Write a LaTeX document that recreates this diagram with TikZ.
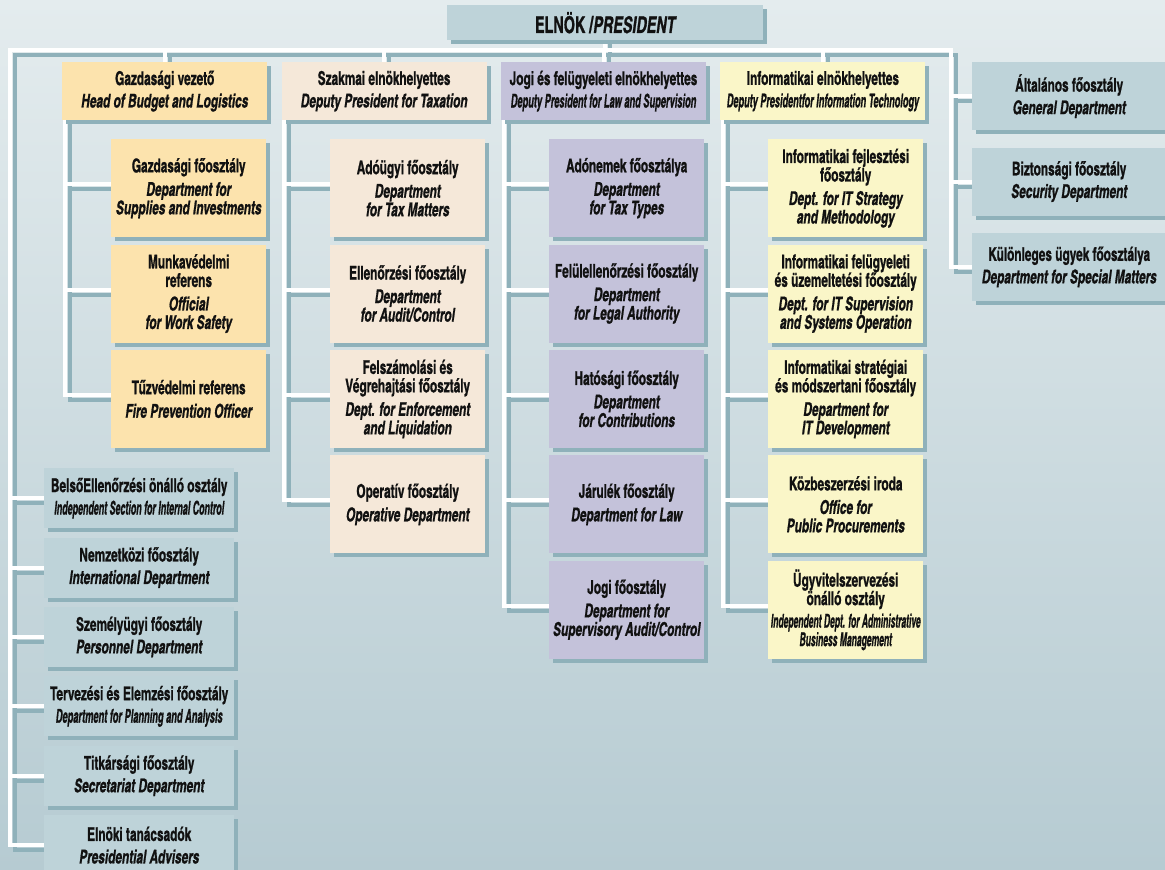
\documentclass[tikz,border=0pt]{standalone}
\usepackage{fontspec}
\setmainfont{texgyreheroscn-bold.otf}[
  ItalicFont=texgyreheroscn-bolditalic.otf,
  FakeStretch=0.76, FakeBold=0.8]
\usepackage{graphicx}
\usepackage{tikz}
\usetikzlibrary{positioning, shadows}

\definecolor{skytop}{HTML}{E4ECEE}
\definecolor{skybottom}{HTML}{B6CBD2}
\definecolor{paneltone}{HTML}{BED3D9}
\definecolor{budgettone}{HTML}{FCE3AD}
\definecolor{taxtone}{HTML}{F5E8D9}
\definecolor{lawtone}{HTML}{C4C2DA}
\definecolor{ittone}{HTML}{FAF6C8}
\definecolor{boxshade}{HTML}{8FB1BA}
\definecolor{linkshade}{HTML}{8FB1BA}
\definecolor{textink}{HTML}{111111}

\newcommand{\squeeze}[2][0.78]{\scalebox{#1}[1]{#2}}

\pgfdeclarelayer{backdrop}
\pgfdeclarelayer{links}
\pgfsetlayers{backdrop,links,main}

\tikzset{
  unit/.style={rectangle, anchor=north west, inner sep=0pt, align=center,
    text=textink, font=\fontsize{19}{18.5}\selectfont,
    drop shadow={shadow xshift=4pt, shadow yshift=-4pt, opacity=1, fill=boxshade}},
  pres/.style={unit, fill=paneltone, minimum width=316pt, minimum height=35pt,
    font=\fontsize{23}{24}\selectfont},
  head/.style={unit, minimum width=205pt, minimum height=58pt},
  dept/.style={unit, minimum width=155pt, minimum height=98pt},
  staff/.style={unit, fill=paneltone, minimum width=190pt, minimum height=60pt},
  side/.style={unit, fill=paneltone, minimum width=194pt, minimum height=68pt},
  link/.style={line width=4pt, line cap=rect},
}

\begin{document}
\begin{tikzpicture}[x=1pt, y=-1pt]
  \useasboundingbox (0,0) rectangle (1165,870);
  \begin{pgfonlayer}{backdrop}
    \fill[top color=skytop, bottom color=skybottom] (0,0) rectangle (1165,870);
  \end{pgfonlayer}

  % top
  \node[pres] (pres) at (447,5) {ELNÖK /\itshape PRESIDENT};
  \coordinate (busL) at (10,50);
  \coordinate (busR) at (951,50);

  % deputies
  \node[head, fill=budgettone] (h1) at (62,62)
    {Gazdasági vezető\\[4pt]\itshape Head of Budget and Logistics};
  \node[head, fill=taxtone] (h2) [right=14pt of h1]
    {Szakmai elnökhelyettes\\[4pt]\itshape Deputy President for Taxation};
  \node[head, fill=lawtone] (h3) [right=14pt of h2]
    {Jogi és felügyeleti elnökhelyettes\\[4pt]\itshape\squeeze{Deputy President for Law and Supervision}};
  \node[head, fill=ittone] (h4) [right=14pt of h3]
    {Informatikai elnökhelyettes\\[4pt]\itshape\squeeze[0.77]{Deputy Presidentfor Information Technology}};

  % directly under the president, right
  \node[side] (g1) at (972,62)
    {Általános főosztály\\[4pt]\itshape General Department};
  \node[side] (g2) [below=17pt of g1]
    {Biztonsági főosztály\\[4pt]\itshape Security Department};
  \node[side] (g3) [below=17pt of g2]
    {Különleges ügyek főosztálya\\[4pt]\itshape Department for Special Matters};

  % budget and logistics
  \node[dept, fill=budgettone] (c11) at (111,139)
    {Gazdasági főosztály\\[5pt]\itshape Department for\\\itshape Supplies and Investments};
  \node[dept, fill=budgettone] (c12) [below=7pt of c11]
    {Munkavédelmi\\referens\\[5pt]\itshape Official\\\itshape for Work Safety};
  \node[dept, fill=budgettone] (c13) [below=7pt of c12]
    {Tűzvédelmi referens\\[5pt]\itshape Fire Prevention Officer};

  % taxation
  \node[dept, fill=taxtone] (c21) at (330,139)
    {Adóügyi főosztály\\[5pt]\itshape Department\\\itshape for Tax Matters};
  \node[dept, fill=taxtone] (c22) [below=7pt of c21]
    {Ellenőrzési főosztály\\[5pt]\itshape Department\\\itshape for Audit/Control};
  \node[dept, fill=taxtone] (c23) [below=7pt of c22]
    {Felszámolási és\\Végrehajtási főosztály\\[5pt]\itshape Dept. for Enforcement\\\itshape and Liquidation};
  \node[dept, fill=taxtone] (c24) [below=7pt of c23]
    {Operatív főosztály\\[5pt]\itshape Operative Department};

  % law and supervision
  \node[dept, fill=lawtone] (c31) at (549,139)
    {Adónemek főosztálya\\[5pt]\itshape Department\\\itshape for Tax Types};
  \node[dept, fill=lawtone] (c32) [below=7pt of c31]
    {Felülellenőrzési főosztály\\[5pt]\itshape Department\\\itshape for Legal Authority};
  \node[dept, fill=lawtone] (c33) [below=7pt of c32]
    {Hatósági főosztály\\[5pt]\itshape Department\\\itshape for Contributions};
  \node[dept, fill=lawtone] (c34) [below=7pt of c33]
    {Járulék főosztály\\[5pt]\itshape Department for Law};
  \node[dept, fill=lawtone] (c35) [below=7pt of c34]
    {Jogi főosztály\\[5pt]\itshape Department for\\\itshape Supervisory Audit/Control};

  % information technology
  \node[dept, fill=ittone] (c41) at (768,139)
    {Informatikai fejlesztési\\főosztály\\[5pt]\itshape Dept. for IT Strategy\\\itshape and Methodology};
  \node[dept, fill=ittone] (c42) [below=7pt of c41]
    {Informatikai felügyeleti\\és üzemeltetési főosztály\\[5pt]\itshape Dept. for IT Supervision\\\itshape and Systems Operation};
  \node[dept, fill=ittone] (c43) [below=7pt of c42]
    {Informatikai stratégiai\\és módszertani főosztály\\[5pt]\itshape Department for\\\itshape IT Development};
  \node[dept, fill=ittone] (c44) [below=7pt of c43]
    {Közbeszerzési iroda\\[5pt]\itshape Office for\\\itshape Public Procurements};
  \node[dept, fill=ittone] (c45) [below=7pt of c44]
    {Ügyvitelszervezési\\önálló osztály\\[4pt]\itshape\squeeze[0.72]{Independent Dept. for Administrative}\\\itshape\squeeze[0.72]{Business Management}};

  % staff units, left
  \node[staff] (s1) at (44,468)
    {BelsőEllenőrzési önálló osztály\\[4pt]\itshape\squeeze[0.75]{Independent Section for Internal Control}};
  \node[staff] (s2) [below=9pt of s1]
    {Nemzetközi főosztály\\[4pt]\itshape International Department};
  \node[staff] (s3) [below=9pt of s2]
    {Személyügyi főosztály\\[4pt]\itshape Personnel Department};
  \node[staff] (s4) [below=9pt of s3]
    {Tervezési és Elemzési főosztály\\[4pt]\itshape\squeeze{Department for Planning and Analysis}};
  \node[staff] (s5) [below=9pt of s4]
    {Titkársági főosztály\\[4pt]\itshape Secretariat Department};
  \node[staff] (s6) [below=9pt of s5]
    {Elnöki tanácsadók\\[4pt]\itshape Presidential Advisers};

  % connectors: shadow pass, then white pass
  \begin{pgfonlayer}{links}
  \foreach \ink/\off in {linkshade/5pt, white/0pt}{
    \begin{scope}[transform canvas={xshift=\off, yshift=-\off}]
      \draw[link, draw=\ink] (pres.south) -- (pres.south |- busL);
      \draw[link, draw=\ink] (busL) -- (busR);
      \foreach \k in {1,...,6}
        \draw[link, draw=\ink] (busL) |- (s\k.west);
      \foreach \k in {1,2,3}
        \draw[link, draw=\ink] (busR) |- (g\k.west);
      \foreach \col/\last in {1/3, 2/4, 3/5, 4/5}{
        \draw[link, draw=\ink] (h\col.north) -- (h\col.north |- busL);
        \foreach \row in {1,...,\last}
          \draw[link, draw=\ink] ([xshift=3pt]h\col.south west) |- ([yshift=4pt]c\col\row.west);
      }
    \end{scope}
  }
  \end{pgfonlayer}
\end{tikzpicture}
\end{document}
